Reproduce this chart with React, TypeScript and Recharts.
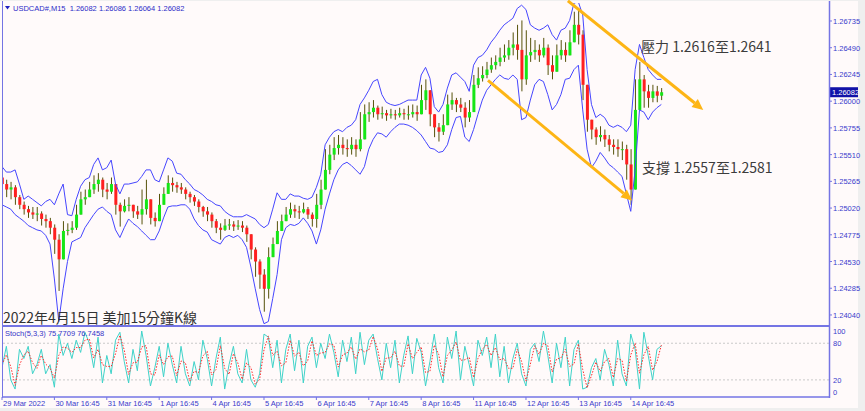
import { ComposedChart, Bar, Line, XAxis, YAxis, ReferenceLine } from "recharts";

// 2-hour slots, 12 per trading day
const tickLabels = [
    "29 Mar 2022", "30 Mar 16:45", "31 Mar 16:45", "1 Apr 16:45", "4 Apr 16:45",
    "5 Apr 16:45", "6 Apr 16:45", "7 Apr 16:45", "8 Apr 16:45", "11 Apr 16:45",
    "12 Apr 16:45", "13 Apr 16:45", "14 Apr 16:45",
];
const slotsPerDay = 12;
const visibleSlots = 189.4;

const priceTicks = [
    1.26735, 1.2649, 1.26245, 1.26, 1.25755, 1.2551, 1.25265, 1.2502, 1.24775, 1.2453, 1.24285, 1.2404,
];
const stochTicks = [0, 20, 80, 100];

const firstOpen = 1.253;

const closes = [
    1.2524, 1.2519, 1.2521, 1.2512, 1.2505, 1.2501, 1.2498, 1.2496, 1.2497, 1.2492, 1.249, 1.2484,
    1.2473, 1.2455, 1.2481, 1.2482, 1.2484, 1.2496, 1.251, 1.2512, 1.2519, 1.2524, 1.2528, 1.2519,
    1.2517, 1.2524, 1.2505, 1.2499, 1.2504, 1.2505, 1.2499, 1.2496, 1.2501, 1.251, 1.2493, 1.249,
    1.2505, 1.2515, 1.2525, 1.2523, 1.2521, 1.2519, 1.2515, 1.2512, 1.2508, 1.2503, 1.2499, 1.2496,
    1.249, 1.2484, 1.2482, 1.2486, 1.2487, 1.2485, 1.2486, 1.2484, 1.2478, 1.2464, 1.2453, 1.2441,
    1.2428, 1.2457, 1.2469, 1.2481, 1.249, 1.2496, 1.2501, 1.2499, 1.2498, 1.2501, 1.2496, 1.2492,
    1.2505, 1.2519, 1.2537, 1.2551, 1.2557, 1.256, 1.2557, 1.2556, 1.256, 1.2556, 1.2565, 1.2588,
    1.259, 1.2594, 1.2588, 1.2589, 1.2587, 1.2588, 1.2587, 1.2589, 1.2588, 1.2588, 1.259, 1.2588,
    1.2601, 1.261, 1.2588, 1.2576, 1.2572, 1.2578, 1.2597, 1.2601, 1.2597, 1.2594, 1.2585, 1.259,
    1.2615, 1.2621, 1.2624, 1.2629, 1.2633, 1.2636, 1.264, 1.2642, 1.2649, 1.2652, 1.2647, 1.262,
    1.2642, 1.2645, 1.2647, 1.2642, 1.2649, 1.2633, 1.2627, 1.2642, 1.2647, 1.2642, 1.2654, 1.267,
    1.2661, 1.2615, 1.2583, 1.2574, 1.2567, 1.2569, 1.2565, 1.256, 1.2558, 1.2556, 1.2556, 1.2542,
    1.2519, 1.2592, 1.262, 1.2609, 1.2603, 1.2609, 1.2605, 1.26082,
];

const highs = [
    1.253, 1.2528, 1.2526, 1.2523, 1.2514, 1.2508, 1.2504, 1.2503, 1.2503, 1.2499, 1.2496, 1.2493,
    1.2487, 1.2478, 1.249, 1.2488, 1.249, 1.2505, 1.2517, 1.2519, 1.2526, 1.2532, 1.2534, 1.253,
    1.2525, 1.253, 1.2519, 1.2507, 1.251, 1.2512, 1.2505, 1.2504, 1.2519, 1.2528, 1.2501, 1.2498,
    1.2515, 1.2521, 1.2532, 1.253, 1.2526, 1.2525, 1.2521, 1.2517, 1.2514, 1.251, 1.2504, 1.2503,
    1.2498, 1.2492, 1.2488, 1.2492, 1.2492, 1.249, 1.2491, 1.249, 1.2486, 1.2473, 1.2466, 1.2455,
    1.2446, 1.2466, 1.2475, 1.249, 1.2496, 1.2503, 1.2507, 1.2505, 1.2504, 1.2507, 1.2503, 1.2498,
    1.2515, 1.2528, 1.2556, 1.256, 1.2567, 1.2569, 1.2567, 1.2565, 1.2567, 1.2565, 1.259, 1.2597,
    1.2599, 1.2601, 1.2596, 1.2595, 1.2592, 1.2593, 1.2592, 1.2594, 1.2593, 1.2596, 1.2597, 1.2596,
    1.2615, 1.262, 1.2601, 1.2585, 1.258, 1.2588, 1.2606, 1.2608, 1.2603, 1.2603, 1.2599, 1.2601,
    1.2624, 1.2631, 1.2632, 1.2636, 1.264, 1.2642, 1.2649, 1.2652, 1.2656, 1.2663, 1.267, 1.2674,
    1.2665, 1.2658, 1.2656, 1.2652, 1.2658, 1.2652, 1.2642, 1.2652, 1.2656, 1.2654, 1.2665, 1.2682,
    1.2684, 1.2665, 1.2606, 1.2583, 1.2576, 1.2577, 1.2574, 1.2569, 1.2565, 1.2565, 1.2563, 1.256,
    1.2556, 1.262, 1.2636, 1.2624, 1.2615, 1.2615, 1.2614, 1.2612,
];

const lows = [
    1.2515, 1.2512, 1.251, 1.2505, 1.2501, 1.2496, 1.2493, 1.2492, 1.249, 1.2486, 1.2484, 1.2478,
    1.246, 1.2426, 1.2464, 1.2477, 1.2479, 1.2482, 1.2501, 1.2505, 1.2512, 1.2515, 1.2517, 1.2512,
    1.251, 1.2515, 1.2496, 1.2485, 1.2498, 1.2499, 1.2493, 1.2492, 1.2487, 1.2496, 1.2487, 1.2485,
    1.2496, 1.2505, 1.2517, 1.2517, 1.2516, 1.2515, 1.251, 1.2507, 1.2504, 1.2498, 1.2494, 1.249,
    1.2484, 1.2479, 1.2473, 1.2481, 1.2482, 1.2481, 1.2482, 1.248, 1.2471, 1.2455, 1.2439, 1.2428,
    1.2407, 1.2419, 1.2457, 1.2469, 1.2481, 1.249, 1.2493, 1.2493, 1.2492, 1.2497, 1.2492, 1.2485,
    1.2484, 1.2501, 1.2519, 1.2533, 1.2546, 1.2551, 1.2551, 1.2549, 1.2551, 1.2549, 1.2554, 1.2578,
    1.2581, 1.2585, 1.2583, 1.2584, 1.2582, 1.2584, 1.2583, 1.2585, 1.2583, 1.2583, 1.2585, 1.2582,
    1.2588, 1.2592, 1.2577, 1.2567, 1.2563, 1.2569, 1.2585, 1.2592, 1.259, 1.259, 1.2576, 1.2581,
    1.2606, 1.2612, 1.2618, 1.2621, 1.2626, 1.2629, 1.2632, 1.2636, 1.2638, 1.2642, 1.2638, 1.2609,
    1.2615, 1.2636, 1.2638, 1.2636, 1.264, 1.2624, 1.262, 1.2629, 1.2638, 1.2636, 1.2642, 1.2656,
    1.2652, 1.2601, 1.2572, 1.2565, 1.256, 1.2563, 1.2558, 1.2554, 1.2551, 1.2549, 1.2546, 1.2528,
    1.2505, 1.2546, 1.2601, 1.2594, 1.2594, 1.2599, 1.2599, 1.2601,
];

const upperBand = [
    1.254, 1.2535, 1.2535, 1.2537, 1.2524, 1.251, 1.2513, 1.251, 1.2507, 1.2504, 1.2508, 1.251,
    1.2505, 1.2515, 1.2524, 1.2496, 1.2495, 1.251, 1.2522, 1.2528, 1.253, 1.2542, 1.2548, 1.2537,
    1.2539, 1.2546, 1.2524, 1.2515, 1.2524, 1.2524, 1.2525, 1.2526, 1.2531, 1.2537, 1.2537, 1.2528,
    1.2526, 1.2537, 1.2548, 1.2545, 1.2534, 1.2533, 1.2528, 1.2524, 1.2519, 1.2517, 1.2514, 1.251,
    1.2508, 1.2505, 1.2504, 1.2499, 1.2496, 1.2494, 1.2494, 1.2494, 1.2496, 1.2494, 1.2492, 1.2487,
    1.2484, 1.2487, 1.2501, 1.2516, 1.251, 1.251, 1.2515, 1.2513, 1.2513, 1.2511, 1.251, 1.2512,
    1.2521, 1.2533, 1.256, 1.2567, 1.2572, 1.2574, 1.2572, 1.2576, 1.2578, 1.2583, 1.2597, 1.2603,
    1.261, 1.2618, 1.262, 1.2606, 1.2599, 1.2597, 1.2596, 1.2597, 1.2599, 1.2601, 1.2601, 1.2601,
    1.2624, 1.2631, 1.2621, 1.2595, 1.259, 1.2597, 1.2612, 1.2624, 1.2626, 1.2622, 1.2618, 1.2609,
    1.2633, 1.264, 1.2642, 1.2647, 1.2654, 1.2659, 1.2665, 1.267, 1.2673, 1.2676, 1.2685, 1.2688,
    1.2684, 1.267, 1.2667, 1.2665, 1.2667, 1.267, 1.2661, 1.2656, 1.2665, 1.2667, 1.2674, 1.269,
    1.2691, 1.2679, 1.2629, 1.2597, 1.2585, 1.2588, 1.2585, 1.2578, 1.2576, 1.2578, 1.2576, 1.2572,
    1.2578, 1.2629, 1.2652, 1.264, 1.2629, 1.2624, 1.262, 1.262,
];

const lowerBand = [
    1.2505, 1.2503, 1.2501, 1.2496, 1.2493, 1.249, 1.2486, 1.2484, 1.2482, 1.2481, 1.2477, 1.2469,
    1.2437, 1.2398, 1.2428, 1.2453, 1.2471, 1.2473, 1.2475, 1.2484, 1.249, 1.2496, 1.2501, 1.2503,
    1.2499, 1.2496, 1.2482, 1.2475, 1.2484, 1.2492, 1.2488, 1.2485, 1.2481, 1.2477, 1.2473, 1.2473,
    1.2481, 1.2493, 1.2503, 1.2504, 1.2504, 1.2505, 1.2505, 1.2501, 1.2492, 1.2486, 1.2482, 1.248,
    1.2473, 1.2471, 1.2469, 1.2475, 1.2477, 1.2475, 1.2477, 1.2473, 1.2466, 1.2448, 1.2428, 1.2409,
    1.2396, 1.2398, 1.2419, 1.2441, 1.2473, 1.2484, 1.2487, 1.2486, 1.2488, 1.2493, 1.2488, 1.2481,
    1.2469, 1.2482, 1.2501, 1.2515, 1.2528, 1.2537, 1.2542, 1.2544, 1.2541, 1.2537, 1.2533, 1.254,
    1.2556, 1.2565, 1.2571, 1.257, 1.2567, 1.2572, 1.2576, 1.2579, 1.2579, 1.2578, 1.2576, 1.2573,
    1.2569, 1.2563, 1.2557, 1.2556, 1.2553, 1.2554, 1.256, 1.2574, 1.2585, 1.2586, 1.2567, 1.2563,
    1.2574, 1.2588, 1.2601, 1.261, 1.2615, 1.262, 1.2624, 1.2621, 1.262, 1.2624, 1.262, 1.2583,
    1.2585, 1.2601, 1.2615, 1.262, 1.2618, 1.2606, 1.2592, 1.2597, 1.2606, 1.262, 1.2621, 1.2629,
    1.2633, 1.2592, 1.2556, 1.2539, 1.2545, 1.2553, 1.2548, 1.2542, 1.2539, 1.2535, 1.2531, 1.2515,
    1.2499, 1.2537, 1.2592, 1.259, 1.2583, 1.259, 1.2594, 1.2597,
];

const stochMain = [
    40, 75, 20, 5, 70, 55, 75, 30, 45, 70, 30, 45,
    8, 95, 60, 80, 55, 85, 65, 98, 80, 40, 90, 15,
    60, 30, 85, 98, 50, 15, 70, 35, 100, 60, 10, 40,
    75, 25, 80, 45, 15, 75, 30, 10, 50, 20, 85, 55,
    10, 55, 90, 5, 45, 75, 30, 15, 70, 20, 8, 30,
    95, 90, 40, 85, 15, 70, 95, 35, 85, 15, 75, 90,
    40, 80, 55, 95, 65, 25, 85, 50, 90, 30, 98, 45,
    85, 95, 55, 20, 80, 40, 85, 15, 60, 92, 30, 88,
    65, 10, 50, 95, 40, 15, 90, 55, 100, 20, 75, 45,
    10, 85, 60, 90, 40, 95, 25, 75, 15, 55, 80, 30,
    10, 70, 80, 50, 100, 60, 15, 80, 40, 90, 10, 70,
    85, 5, 8, 40, 55, 20, 70, 45, 10, 85, 30, 10,
    95, 70, 5, 98, 60, 20, 70, 75.77,
];

const stochSignal = [
    45, 61, 42, 11, 44, 61, 67, 48, 39, 60, 46, 39,
    23, 60, 74, 72, 65, 73, 73, 85, 87, 56, 70, 45,
    42, 42, 63, 93, 69, 29, 48, 49, 74, 76, 30, 28,
    61, 45, 58, 59, 27, 51, 48, 18, 34, 32, 59, 67,
    28, 37, 76, 39, 29, 63, 48, 21, 48, 40, 13, 21,
    69, 92, 60, 67, 43, 48, 85, 59, 65, 43, 51, 84,
    60, 64, 65, 79, 77, 41, 61, 64, 74, 54, 71, 66,
    69, 91, 71, 34, 56, 56, 67, 43, 42, 79, 55, 65,
    74, 32, 34, 77, 62, 25, 60, 69, 82, 52, 53, 57,
    24, 55, 70, 78, 60, 73, 53, 55, 39, 39, 70, 50,
    18, 46, 76, 62, 80, 76, 33, 54, 56, 70, 42, 46,
    79, 37, 7, 27, 49, 34, 50, 55, 24, 55, 52, 18,
    61, 80, 31, 61, 75, 36, 50, 76.75,
];

// annotation arrows, in slot / price units
const resistanceArrow = [{ x: 129.6, y: 1.2692 }, { x: 160.6, y: 1.2592 }];
const supportArrow = [{ x: 111.3, y: 1.2619 }, { x: 144.3, y: 1.2509 }];

const FRAME = "#7474e4";
const AXIS_TEXT = "#3a3acc";
const BAND = "#4646ff";
const BULL = "#16e616";
const BEAR = "#ff1f1f";
const WICK = "#56520a";
const ARROW = "#fdb515";
const MT_FONT = '"Liberation Sans", Arial, sans-serif';
const CJK_FONT = '"Noto Sans CJK TC", "Noto Sans CJK SC", sans-serif';

const candles = closes.map((close, i) => {
    const open = i === 0 ? firstOpen : closes[i - 1];
    const high = Math.max(highs[i], open, close);
    const low = Math.min(lows[i], open, close);
    return { i, open, close, high, low, range: [low, high], upper: upperBand[i], lower: lowerBand[i] };
});

const stochData = stochMain.map((k, i) => ({ i, k, d: stochSignal[i] }));
const dayTicks = tickLabels.map((_, n) => n * slotsPerDay);
const lastClose = closes[closes.length - 1];

const Candle = (props: any) => {
    const { x, y, width, height, payload } = props;
    if (!payload || height == null) return null;
    const { open, close, high, low } = payload;
    const cx = x + width / 2;
    const k = high > low ? height / (high - low) : 0;
    const top = y + (high - Math.max(open, close)) * k;
    const bottom = y + (high - Math.min(open, close)) * k;
    return (
        <g>
            <line x1={cx} x2={cx} y1={y} y2={y + height} stroke={WICK} strokeWidth={1} />
            <rect x={cx - 1.5} y={top} width={3} height={Math.max(1, bottom - top)} fill={close >= open ? BULL : BEAR} />
        </g>
    );
};

const Arrow = (p: any) => {
    const { x1, y1, x2, y2 } = p;
    const a = Math.atan2(y2 - y1, x2 - x1);
    const len = 11;
    const half = 5;
    const bx = x2 - len * Math.cos(a);
    const by = y2 - len * Math.sin(a);
    const px = -Math.sin(a) * half;
    const py = Math.cos(a) * half;
    return (
        <g>
            <line x1={x1} y1={y1} x2={bx} y2={by} stroke={ARROW} strokeWidth={3} />
            <polygon points={`${x2},${y2} ${bx + px},${by + py} ${bx - px},${by - py}`} fill={ARROW} />
        </g>
    );
};

const PriceTick = (props: any) => {
    const { x, y, payload } = props;
    return (
        <text x={x} y={y} dy={3} fontSize={7.5} fontFamily={MT_FONT} fill={AXIS_TEXT} textAnchor="start">
            {Number(payload.value).toFixed(5)}
        </text>
    );
};

const TimeTick = (props: any) => {
    const { x, y, payload } = props;
    const label = tickLabels[Math.round(payload.value / slotsPerDay)];
    return (
        <text x={x + 1} y={y + 6} fontSize={7.5} fontFamily={MT_FONT} fill={AXIS_TEXT} textAnchor="start">
            {label}
        </text>
    );
};

// stoch level labels drawn beside the right axis
const levelLabel = (value: number) => (props: any) => {
    const { viewBox } = props;
    if (!viewBox) return null;
    return (
        <text x={viewBox.x + viewBox.width + 4} y={viewBox.y + 3} fontSize={7.5} fontFamily={MT_FONT} fill={AXIS_TEXT}>
            {String(value)}
        </text>
    );
};

const LastPrice = (props: any) => {
    const { viewBox } = props;
    if (!viewBox) return null;
    const bx = viewBox.x + viewBox.width + 1;
    return (
        <g>
            <rect x={bx} y={viewBox.y - 5} width={28} height={10} fill="#1212a8" />
            <text x={bx + 2} y={viewBox.y + 3} fontSize={7.5} fontFamily={MT_FONT} fill="#ffffff">
                {lastClose.toFixed(5)}
            </text>
        </g>
    );
};

export default function App() {
    return (
        <div style={{ position: "relative", width: 865, height: 411, background: "#efefef", overflow: "hidden" }}>
            <style>{"body{margin:0}"}</style>
            <div style={{ position: "absolute", left: 0, top: 1, width: 858, height: 407, background: "#fffafa" }} />

            <div style={{ position: "absolute", left: 0, top: 0 }}>
                <ComposedChart width={865} height={326} data={candles} margin={{ top: 3, right: 0, bottom: 1, left: 2 }}>
                    <XAxis dataKey="i" type="number" domain={[0, visibleSlots]} hide allowDataOverflow />
                    <YAxis
                        orientation="right"
                        width={36}
                        domain={[1.23948, 1.269]}
                        ticks={priceTicks}
                        interval={0}
                        allowDataOverflow
                        axisLine={false}
                        tickSize={3}
                        tickMargin={1}
                        tickLine={{ stroke: FRAME }}
                        tick={PriceTick}
                    />
                    <Line dataKey="upper" stroke={BAND} strokeWidth={1} dot={false} activeDot={false} isAnimationActive={false} />
                    <Line dataKey="lower" stroke={BAND} strokeWidth={1} dot={false} activeDot={false} isAnimationActive={false} />
                    <Bar dataKey="range" barSize={3} shape={Candle} isAnimationActive={false} />
                    <ReferenceLine segment={resistanceArrow} ifOverflow="visible" shape={Arrow} />
                    <ReferenceLine segment={supportArrow} ifOverflow="visible" shape={Arrow} />
                    <ReferenceLine y={lastClose} stroke="none" label={LastPrice} />
                </ComposedChart>
            </div>

            <div style={{ position: "absolute", left: 0, top: 326 }}>
                <ComposedChart width={865} height={85} data={stochData} margin={{ top: 1, right: 0, bottom: 0, left: 2 }}>
                    <XAxis
                        dataKey="i"
                        type="number"
                        domain={[0, visibleSlots]}
                        ticks={dayTicks}
                        interval={0}
                        allowDataOverflow
                        height={14}
                        axisLine={false}
                        tickSize={3}
                        tickMargin={0}
                        tickLine={{ stroke: FRAME }}
                        tick={TimeTick}
                    />
                    <YAxis
                        orientation="right"
                        width={36}
                        type="number"
                        domain={[-8, 106.6]}
                        ticks={stochTicks}
                        interval={0}
                        allowDataOverflow
                        axisLine={false}
                        tickSize={3}
                        tickLine={{ stroke: FRAME }}
                        tick={false}
                    />
                    {stochTicks.map((v) => (
                        <ReferenceLine
                            key={v}
                            y={v}
                            stroke={v === 20 || v === 80 ? "#c9c9c9" : "none"}
                            strokeDasharray="2 2"
                            label={levelLabel(v)}
                        />
                    ))}
                    <Line dataKey="k" stroke="#3fd3c9" strokeWidth={1} dot={false} activeDot={false} isAnimationActive={false} />
                    <Line dataKey="d" stroke="#ff2a2a" strokeWidth={1} strokeDasharray="1.5 1.5" dot={false} activeDot={false} isAnimationActive={false} />
                </ComposedChart>
            </div>

            <svg width={865} height={411} style={{ position: "absolute", left: 0, top: 0, pointerEvents: "none" }}>
                <line x1={2.5} y1={1} x2={2.5} y2={398} stroke={FRAME} strokeWidth={1} />
                <line x1={829.5} y1={1} x2={829.5} y2={398} stroke={FRAME} strokeWidth={1.5} />
                <line x1={2} y1={326} x2={830} y2={326} stroke={FRAME} strokeWidth={2} />
                <line x1={2} y1={397} x2={830} y2={397} stroke={FRAME} strokeWidth={1.5} />

                <polygon points="5,6 10,6 7.5,9.5" fill="#2020c0" />
                <text x={13} y={11} fontSize={7.5} fontFamily={MT_FONT} fill="#2c2cc8" style={{ whiteSpace: "pre" }}>
                    {"USDCAD#,M15  1.26082 1.26086 1.26064 1.26082"}
                </text>
                <text x={5} y={335.5} fontSize={7.5} fontFamily={MT_FONT} fill="#3535c8">
                    Stoch(5,3,3) 75.7709 76.7458
                </text>

                <text x={3} y={323} fontSize={14} fontFamily={CJK_FONT} fill="#333333">
                    2022年4月15日 美加15分鐘K線
                </text>
                <text x={641} y={52} fontSize={14} fontFamily={CJK_FONT} fill="#3c3c3c">
                    壓力 1.2616至1.2641
                </text>
                <text x={642} y={173} fontSize={14} fontFamily={CJK_FONT} fill="#3c3c3c">
                    支撐 1.2557至1.2581
                </text>
            </svg>
        </div>
    );
}
